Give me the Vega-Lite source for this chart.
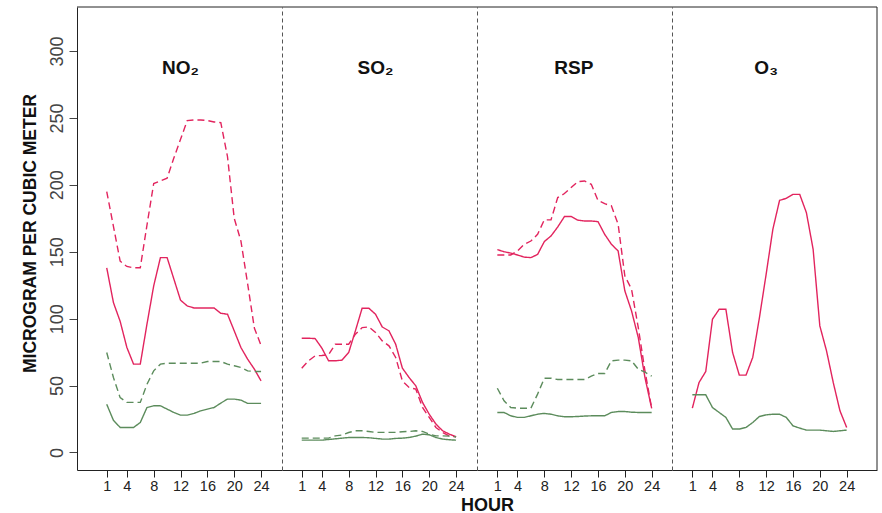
{
  "$schema": "https://vega.github.io/schema/vega-lite/v6.json",
  "background": "white",
  "padding": {"left": 20, "top": 6, "right": 4, "bottom": 0},
  "spacing": 0,
  "bounds": "flush",
  "config": {
    "font": "Liberation Sans",
    "view": {"stroke": null},
    "axis": {"grid": false, "labelFlush": false, "labelOverlap": false}
  },
  "datasets": {
    "NO2": [
      {"series":"S1","hour":1,"value":195},{"series":"S1","hour":2,"value":169},{"series":"S1","hour":3,"value":143},{"series":"S1","hour":4,"value":139},{"series":"S1","hour":5,"value":138},{"series":"S1","hour":6,"value":138},{"series":"S1","hour":7,"value":170},{"series":"S1","hour":8,"value":201},{"series":"S1","hour":9,"value":203},{"series":"S1","hour":10,"value":205},{"series":"S1","hour":11,"value":220},{"series":"S1","hour":12,"value":234},{"series":"S1","hour":13,"value":248},{"series":"S1","hour":14,"value":248.5},{"series":"S1","hour":15,"value":248.5},{"series":"S1","hour":16,"value":248},{"series":"S1","hour":17,"value":247},{"series":"S1","hour":18,"value":246.5},{"series":"S1","hour":19,"value":221},{"series":"S1","hour":20,"value":175},{"series":"S1","hour":21,"value":158},{"series":"S1","hour":22,"value":126},{"series":"S1","hour":23,"value":93},{"series":"S1","hour":24,"value":80},
      {"series":"S2","hour":1,"value":138},{"series":"S2","hour":2,"value":112},{"series":"S2","hour":3,"value":98},{"series":"S2","hour":4,"value":78.5},{"series":"S2","hour":5,"value":66},{"series":"S2","hour":6,"value":66},{"series":"S2","hour":7,"value":96},{"series":"S2","hour":8,"value":124.5},{"series":"S2","hour":9,"value":145.6},{"series":"S2","hour":10,"value":145.6},{"series":"S2","hour":11,"value":129.7},{"series":"S2","hour":12,"value":113.8},{"series":"S2","hour":13,"value":109.5},{"series":"S2","hour":14,"value":108},{"series":"S2","hour":15,"value":108},{"series":"S2","hour":16,"value":108},{"series":"S2","hour":17,"value":108},{"series":"S2","hour":18,"value":104},{"series":"S2","hour":19,"value":103.3},{"series":"S2","hour":20,"value":90.9},{"series":"S2","hour":21,"value":78.4},{"series":"S2","hour":22,"value":69.7},{"series":"S2","hour":23,"value":62.3},{"series":"S2","hour":24,"value":53.5},
      {"series":"S3","hour":1,"value":74.7},{"series":"S3","hour":2,"value":56},{"series":"S3","hour":3,"value":41},{"series":"S3","hour":4,"value":37.4},{"series":"S3","hour":5,"value":37.4},{"series":"S3","hour":6,"value":37.4},{"series":"S3","hour":7,"value":51},{"series":"S3","hour":8,"value":61},{"series":"S3","hour":9,"value":66},{"series":"S3","hour":10,"value":66.7},{"series":"S3","hour":11,"value":66.7},{"series":"S3","hour":12,"value":66.7},{"series":"S3","hour":13,"value":66.7},{"series":"S3","hour":14,"value":66.7},{"series":"S3","hour":15,"value":66.7},{"series":"S3","hour":16,"value":68},{"series":"S3","hour":17,"value":68},{"series":"S3","hour":18,"value":68},{"series":"S3","hour":19,"value":66},{"series":"S3","hour":20,"value":64.8},{"series":"S3","hour":21,"value":63.5},{"series":"S3","hour":22,"value":61},{"series":"S3","hour":23,"value":60.5},{"series":"S3","hour":24,"value":60.5},
      {"series":"S4","hour":1,"value":36},{"series":"S4","hour":2,"value":24},{"series":"S4","hour":3,"value":18.7},{"series":"S4","hour":4,"value":18.7},{"series":"S4","hour":5,"value":18.7},{"series":"S4","hour":6,"value":22.4},{"series":"S4","hour":7,"value":33.6},{"series":"S4","hour":8,"value":34.9},{"series":"S4","hour":9,"value":34.9},{"series":"S4","hour":10,"value":32.4},{"series":"S4","hour":11,"value":29.9},{"series":"S4","hour":12,"value":27.9},{"series":"S4","hour":13,"value":27.9},{"series":"S4","hour":14,"value":29.2},{"series":"S4","hour":15,"value":31.1},{"series":"S4","hour":16,"value":32.4},{"series":"S4","hour":17,"value":33.6},{"series":"S4","hour":18,"value":36.9},{"series":"S4","hour":19,"value":39.9},{"series":"S4","hour":20,"value":39.9},{"series":"S4","hour":21,"value":39.1},{"series":"S4","hour":22,"value":36.7},{"series":"S4","hour":23,"value":36.7},{"series":"S4","hour":24,"value":36.7}
    ],
    "SO2": [
      {"series":"S1","hour":1,"value":63},{"series":"S1","hour":2,"value":68.5},{"series":"S1","hour":3,"value":72.2},{"series":"S1","hour":4,"value":72.5},{"series":"S1","hour":5,"value":73},{"series":"S1","hour":6,"value":80.9},{"series":"S1","hour":7,"value":80.9},{"series":"S1","hour":8,"value":80.9},{"series":"S1","hour":9,"value":88.4},{"series":"S1","hour":10,"value":93.3},{"series":"S1","hour":11,"value":93.8},{"series":"S1","hour":12,"value":89.7},{"series":"S1","hour":13,"value":83.4},{"series":"S1","hour":14,"value":79.7},{"series":"S1","hour":15,"value":71},{"series":"S1","hour":16,"value":53.5},{"series":"S1","hour":17,"value":48.6},{"series":"S1","hour":18,"value":47.3},{"series":"S1","hour":19,"value":33.6},{"series":"S1","hour":20,"value":26.2},{"series":"S1","hour":21,"value":18.7},{"series":"S1","hour":22,"value":14.9},{"series":"S1","hour":23,"value":12.4},{"series":"S1","hour":24,"value":11.7},
      {"series":"S2","hour":1,"value":85.4},{"series":"S2","hour":2,"value":85.4},{"series":"S2","hour":3,"value":85.1},{"series":"S2","hour":4,"value":78},{"series":"S2","hour":5,"value":68.5},{"series":"S2","hour":6,"value":68.5},{"series":"S2","hour":7,"value":69},{"series":"S2","hour":8,"value":74.7},{"series":"S2","hour":9,"value":90.9},{"series":"S2","hour":10,"value":107.8},{"series":"S2","hour":11,"value":107.8},{"series":"S2","hour":12,"value":103.3},{"series":"S2","hour":13,"value":93.8},{"series":"S2","hour":14,"value":90.9},{"series":"S2","hour":15,"value":80.9},{"series":"S2","hour":16,"value":63},{"series":"S2","hour":17,"value":56},{"series":"S2","hour":18,"value":49.8},{"series":"S2","hour":19,"value":37.4},{"series":"S2","hour":20,"value":28.6},{"series":"S2","hour":21,"value":21.2},{"series":"S2","hour":22,"value":16.2},{"series":"S2","hour":23,"value":13.7},{"series":"S2","hour":24,"value":11.7},
      {"series":"S3","hour":1,"value":10.7},{"series":"S3","hour":2,"value":10.7},{"series":"S3","hour":3,"value":10.7},{"series":"S3","hour":4,"value":10.7},{"series":"S3","hour":5,"value":10.7},{"series":"S3","hour":6,"value":12.4},{"series":"S3","hour":7,"value":13},{"series":"S3","hour":8,"value":14.9},{"series":"S3","hour":9,"value":16.2},{"series":"S3","hour":10,"value":16.2},{"series":"S3","hour":11,"value":15.7},{"series":"S3","hour":12,"value":15},{"series":"S3","hour":13,"value":15},{"series":"S3","hour":14,"value":15},{"series":"S3","hour":15,"value":15},{"series":"S3","hour":16,"value":15.5},{"series":"S3","hour":17,"value":15.7},{"series":"S3","hour":18,"value":16.2},{"series":"S3","hour":19,"value":15.7},{"series":"S3","hour":20,"value":13.7},{"series":"S3","hour":21,"value":12.4},{"series":"S3","hour":22,"value":12.4},{"series":"S3","hour":23,"value":12.2},{"series":"S3","hour":24,"value":11.7},
      {"series":"S4","hour":1,"value":9.2},{"series":"S4","hour":2,"value":9.2},{"series":"S4","hour":3,"value":9.2},{"series":"S4","hour":4,"value":9.2},{"series":"S4","hour":5,"value":9.7},{"series":"S4","hour":6,"value":10.2},{"series":"S4","hour":7,"value":10.7},{"series":"S4","hour":8,"value":11.2},{"series":"S4","hour":9,"value":11.2},{"series":"S4","hour":10,"value":11.2},{"series":"S4","hour":11,"value":11},{"series":"S4","hour":12,"value":10.5},{"series":"S4","hour":13,"value":10},{"series":"S4","hour":14,"value":10},{"series":"S4","hour":15,"value":10.5},{"series":"S4","hour":16,"value":10.7},{"series":"S4","hour":17,"value":11.2},{"series":"S4","hour":18,"value":12.2},{"series":"S4","hour":19,"value":13.7},{"series":"S4","hour":20,"value":13.2},{"series":"S4","hour":21,"value":11.2},{"series":"S4","hour":22,"value":10},{"series":"S4","hour":23,"value":9.5},{"series":"S4","hour":24,"value":9.2}
    ],
    "RSP": [
      {"series":"S1","hour":1,"value":147.6},{"series":"S1","hour":2,"value":147.6},{"series":"S1","hour":3,"value":147.6},{"series":"S1","hour":4,"value":150.6},{"series":"S1","hour":5,"value":155.6},{"series":"S1","hour":6,"value":158},{"series":"S1","hour":7,"value":163},{"series":"S1","hour":8,"value":173.8},{"series":"S1","hour":9,"value":173.8},{"series":"S1","hour":10,"value":190.5},{"series":"S1","hour":11,"value":193.5},{"series":"S1","hour":12,"value":198},{"series":"S1","hour":13,"value":202.4},{"series":"S1","hour":14,"value":202.9},{"series":"S1","hour":15,"value":200.4},{"series":"S1","hour":16,"value":188.4},{"series":"S1","hour":17,"value":185.9},{"series":"S1","hour":18,"value":184.3},{"series":"S1","hour":19,"value":170.6},{"series":"S1","hour":20,"value":132},{"series":"S1","hour":21,"value":122},{"series":"S1","hour":22,"value":93.4},{"series":"S1","hour":23,"value":61},{"series":"S1","hour":24,"value":33},
      {"series":"S2","hour":1,"value":151.6},{"series":"S2","hour":2,"value":150},{"series":"S2","hour":3,"value":149},{"series":"S2","hour":4,"value":147.6},{"series":"S2","hour":5,"value":146},{"series":"S2","hour":6,"value":145.6},{"series":"S2","hour":7,"value":148},{"series":"S2","hour":8,"value":157.6},{"series":"S2","hour":9,"value":161.8},{"series":"S2","hour":10,"value":168.5},{"series":"S2","hour":11,"value":176.3},{"series":"S2","hour":12,"value":176.3},{"series":"S2","hour":13,"value":173.6},{"series":"S2","hour":14,"value":173},{"series":"S2","hour":15,"value":173},{"series":"S2","hour":16,"value":172.5},{"series":"S2","hour":17,"value":163},{"series":"S2","hour":18,"value":155.6},{"series":"S2","hour":19,"value":150.6},{"series":"S2","hour":20,"value":120.8},{"series":"S2","hour":21,"value":105.8},{"series":"S2","hour":22,"value":86},{"series":"S2","hour":23,"value":56},{"series":"S2","hour":24,"value":33},
      {"series":"S3","hour":1,"value":48},{"series":"S3","hour":2,"value":38.6},{"series":"S3","hour":3,"value":33.6},{"series":"S3","hour":4,"value":33.1},{"series":"S3","hour":5,"value":33.1},{"series":"S3","hour":6,"value":33.1},{"series":"S3","hour":7,"value":43.6},{"series":"S3","hour":8,"value":55.5},{"series":"S3","hour":9,"value":55.5},{"series":"S3","hour":10,"value":54.5},{"series":"S3","hour":11,"value":54.5},{"series":"S3","hour":12,"value":54.5},{"series":"S3","hour":13,"value":54.5},{"series":"S3","hour":14,"value":54.5},{"series":"S3","hour":15,"value":57},{"series":"S3","hour":16,"value":59},{"series":"S3","hour":17,"value":59},{"series":"S3","hour":18,"value":68.5},{"series":"S3","hour":19,"value":69},{"series":"S3","hour":20,"value":69},{"series":"S3","hour":21,"value":68.5},{"series":"S3","hour":22,"value":62.2},{"series":"S3","hour":23,"value":60},{"series":"S3","hour":24,"value":57},
      {"series":"S4","hour":1,"value":29.9},{"series":"S4","hour":2,"value":29.9},{"series":"S4","hour":3,"value":27.4},{"series":"S4","hour":4,"value":26.2},{"series":"S4","hour":5,"value":26.2},{"series":"S4","hour":6,"value":27.4},{"series":"S4","hour":7,"value":28.6},{"series":"S4","hour":8,"value":29.2},{"series":"S4","hour":9,"value":28.6},{"series":"S4","hour":10,"value":27.4},{"series":"S4","hour":11,"value":26.7},{"series":"S4","hour":12,"value":26.7},{"series":"S4","hour":13,"value":26.9},{"series":"S4","hour":14,"value":27.2},{"series":"S4","hour":15,"value":27.4},{"series":"S4","hour":16,"value":27.4},{"series":"S4","hour":17,"value":27.4},{"series":"S4","hour":18,"value":29.9},{"series":"S4","hour":19,"value":30.6},{"series":"S4","hour":20,"value":30.6},{"series":"S4","hour":21,"value":30.1},{"series":"S4","hour":22,"value":29.9},{"series":"S4","hour":23,"value":29.9},{"series":"S4","hour":24,"value":29.9}
    ],
    "O3": [
      {"series":"S2","hour":1,"value":33.1},{"series":"S2","hour":2,"value":52.3},{"series":"S2","hour":3,"value":60.5},{"series":"S2","hour":4,"value":99.6},{"series":"S2","hour":5,"value":107},{"series":"S2","hour":6,"value":107},{"series":"S2","hour":7,"value":74.7},{"series":"S2","hour":8,"value":57.8},{"series":"S2","hour":9,"value":57.8},{"series":"S2","hour":10,"value":71},{"series":"S2","hour":11,"value":100.8},{"series":"S2","hour":12,"value":133.2},{"series":"S2","hour":13,"value":166.8},{"series":"S2","hour":14,"value":188.4},{"series":"S2","hour":15,"value":189.9},{"series":"S2","hour":16,"value":192.9},{"series":"S2","hour":17,"value":192.9},{"series":"S2","hour":18,"value":179.2},{"series":"S2","hour":19,"value":151.9},{"series":"S2","hour":20,"value":94.6},{"series":"S2","hour":21,"value":75.9},{"series":"S2","hour":22,"value":52.3},{"series":"S2","hour":23,"value":31.1},{"series":"S2","hour":24,"value":18.7},
      {"series":"S4","hour":1,"value":43.1},{"series":"S4","hour":2,"value":43.1},{"series":"S4","hour":3,"value":43.1},{"series":"S4","hour":4,"value":33.6},{"series":"S4","hour":5,"value":29.9},{"series":"S4","hour":6,"value":26.2},{"series":"S4","hour":7,"value":17.5},{"series":"S4","hour":8,"value":17.5},{"series":"S4","hour":9,"value":18.7},{"series":"S4","hour":10,"value":22.4},{"series":"S4","hour":11,"value":26.9},{"series":"S4","hour":12,"value":28.1},{"series":"S4","hour":13,"value":28.6},{"series":"S4","hour":14,"value":28.6},{"series":"S4","hour":15,"value":26.2},{"series":"S4","hour":16,"value":19.9},{"series":"S4","hour":17,"value":18.2},{"series":"S4","hour":18,"value":16.7},{"series":"S4","hour":19,"value":16.7},{"series":"S4","hour":20,"value":16.7},{"series":"S4","hour":21,"value":16.2},{"series":"S4","hour":22,"value":15.7},{"series":"S4","hour":23,"value":16.2},{"series":"S4","hour":24,"value":16.7}
    ]
  },
  "hconcat": [
    {
      "width": 205, "height": 463,
      "data": {"name": "NO2"},
      "resolve": {"axis": {"x": "independent", "y": "independent"}},
      "layer": [
        {
          "mark": {"type": "line", "strokeWidth": 1.4},
          "encoding": {
            "x": {"field": "hour", "type": "quantitative", "scale": {"domain": [-3.43, 27.12], "nice": false, "zero": false},
              "axis": {"values": [1,4,8,12,16,20,24], "labelOverlap": false, "title": null, "domainColor": "#222", "tickColor": "#222", "tickSize": 7, "labelFontSize": 14.5, "labelColor": "#222", "labelPadding": 2}},
            "y": {"field": "value", "type": "quantitative", "scale": {"domain": [-13.1, 332.9], "nice": false, "zero": false},
              "axis": {"values": [0,50,100,150,200,250,300], "labelOverlap": false, "title": "MICROGRAM PER CUBIC METER", "titleX": -42, "titleY": 226, "titleAngle": 270, "titleBaseline": "alphabetic", "titleAlign": "center", "titleFontSize": 17.5, "titleFontWeight": "bold", "titleColor": "#111",
                "labelAngle": 270, "labelAlign": "center", "labelBaseline": "alphabetic", "labelPadding": 7, "labelFontSize": 18, "labelColor": "#444", "tickSize": 8, "tickColor": "#444", "domainColor": "#222"}},
            "color": {"field": "series", "type": "nominal", "scale": {"domain": ["S1","S2","S3","S4"], "range": ["#E2245E","#E2245E","#5C8C5C","#5C8C5C"]}, "legend": null},
            "strokeDash": {"field": "series", "type": "nominal", "scale": {"domain": ["S1","S2","S3","S4"], "range": [[7,4],[1,0],[7,4],[1,0]]}, "legend": null}
          }
        },
        {
          "data": {"values": [{}]},
          "mark": {"type": "rule", "color": "#222", "strokeWidth": 1},
          "encoding": {"y": {"datum": 332.9, "axis": null}}
        },
        {
          "data": {"values": [{}]},
          "mark": {"type": "text", "text": "NO₂", "fontWeight": "bold", "fontSize": 19, "align": "center", "baseline": "alphabetic", "color": "#111"},
          "encoding": {"x": {"datum": 12.0, "axis": null}, "y": {"datum": 282.6, "axis": null}}
        }
      ]
    },
    {
      "width": 195, "height": 463,
      "data": {"name": "SO2"},
      "resolve": {"axis": {"x": "independent", "y": "independent"}},
      "layer": [
        {
          "mark": {"type": "line", "strokeWidth": 1.4},
          "encoding": {
            "x": {"field": "hour", "type": "quantitative", "scale": {"domain": [-1.94, 27.12], "nice": false, "zero": false},
              "axis": {"values": [1,4,8,12,16,20,24], "labelOverlap": false, "title": "HOUR", "titleX": 205, "titleY": 40, "titleAlign": "center", "titleBaseline": "alphabetic", "titleFontSize": 18, "titleFontWeight": "bold", "titleColor": "#111", "domainColor": "#222", "tickColor": "#222", "tickSize": 7, "labelFontSize": 14.5, "labelColor": "#222", "labelPadding": 2}},
            "y": {"field": "value", "type": "quantitative", "scale": {"domain": [-13.1, 332.9], "nice": false, "zero": false},
              "axis": {"title": null, "labels": false, "ticks": false, "domainColor": "#555", "domainDash": [4,3]}},
            "color": {"field": "series", "type": "nominal", "scale": {"domain": ["S1","S2","S3","S4"], "range": ["#E2245E","#E2245E","#5C8C5C","#5C8C5C"]}, "legend": null},
            "strokeDash": {"field": "series", "type": "nominal", "scale": {"domain": ["S1","S2","S3","S4"], "range": [[7,4],[1,0],[7,4],[1,0]]}, "legend": null}
          }
        },
        {
          "data": {"values": [{}]},
          "mark": {"type": "rule", "color": "#222", "strokeWidth": 1},
          "encoding": {"y": {"datum": 332.9, "axis": null}}
        },
        {
          "data": {"values": [{}]},
          "mark": {"type": "text", "text": "SO₂", "fontWeight": "bold", "fontSize": 19, "align": "center", "baseline": "alphabetic", "color": "#111"},
          "encoding": {"x": {"datum": 12.0, "axis": null}, "y": {"datum": 282.6, "axis": null}}
        }
      ]
    },
    {
      "width": 195, "height": 463,
      "data": {"name": "RSP"},
      "resolve": {"axis": {"x": "independent", "y": "independent"}},
      "layer": [
        {
          "mark": {"type": "line", "strokeWidth": 1.4},
          "encoding": {
            "x": {"field": "hour", "type": "quantitative", "scale": {"domain": [-2.03, 27.03], "nice": false, "zero": false},
              "axis": {"values": [1,4,8,12,16,20,24], "labelOverlap": false, "title": null, "domainColor": "#222", "tickColor": "#222", "tickSize": 7, "labelFontSize": 14.5, "labelColor": "#222", "labelPadding": 2}},
            "y": {"field": "value", "type": "quantitative", "scale": {"domain": [-13.1, 332.9], "nice": false, "zero": false},
              "axis": {"title": null, "labels": false, "ticks": false, "domainColor": "#555", "domainDash": [4,3]}},
            "color": {"field": "series", "type": "nominal", "scale": {"domain": ["S1","S2","S3","S4"], "range": ["#E2245E","#E2245E","#5C8C5C","#5C8C5C"]}, "legend": null},
            "strokeDash": {"field": "series", "type": "nominal", "scale": {"domain": ["S1","S2","S3","S4"], "range": [[7,4],[1,0],[7,4],[1,0]]}, "legend": null}
          }
        },
        {
          "data": {"values": [{}]},
          "mark": {"type": "rule", "color": "#222", "strokeWidth": 1},
          "encoding": {"y": {"datum": 332.9, "axis": null}}
        },
        {
          "data": {"values": [{}]},
          "mark": {"type": "text", "text": "RSP", "fontWeight": "bold", "fontSize": 19, "align": "center", "baseline": "alphabetic", "color": "#111"},
          "encoding": {"x": {"datum": 12.4, "axis": null}, "y": {"datum": 282.6, "axis": null}}
        }
      ]
    },
    {
      "width": 205, "height": 463,
      "data": {"name": "O3"},
      "resolve": {"axis": {"x": "independent", "y": "independent"}},
      "layer": [
        {
          "mark": {"type": "line", "strokeWidth": 1.4},
          "encoding": {
            "x": {"field": "hour", "type": "quantitative", "scale": {"domain": [-2.03, 28.52], "nice": false, "zero": false},
              "axis": {"values": [1,4,8,12,16,20,24], "labelOverlap": false, "title": null, "domainColor": "#222", "tickColor": "#222", "tickSize": 7, "labelFontSize": 14.5, "labelColor": "#222", "labelPadding": 2}},
            "y": {"field": "value", "type": "quantitative", "scale": {"domain": [-13.1, 332.9], "nice": false, "zero": false},
              "axis": {"title": null, "labels": false, "ticks": false, "domainColor": "#555", "domainDash": [4,3]}},
            "color": {"field": "series", "type": "nominal", "scale": {"domain": ["S1","S2","S3","S4"], "range": ["#E2245E","#E2245E","#5C8C5C","#5C8C5C"]}, "legend": null},
            "strokeDash": {"field": "series", "type": "nominal", "scale": {"domain": ["S1","S2","S3","S4"], "range": [[7,4],[1,0],[7,4],[1,0]]}, "legend": null}
          }
        },
        {
          "data": {"values": [{}]},
          "mark": {"type": "rule", "color": "#222", "strokeWidth": 1},
          "encoding": {"y": {"datum": 332.9, "axis": null}}
        },
        {
          "data": {"values": [{}]},
          "mark": {"type": "rule", "color": "#222", "strokeWidth": 1},
          "encoding": {"x": {"datum": 28.52, "axis": null}}
        },
        {
          "data": {"values": [{}]},
          "mark": {"type": "text", "text": "O₃", "fontWeight": "bold", "fontSize": 19, "align": "center", "baseline": "alphabetic", "color": "#111"},
          "encoding": {"x": {"datum": 12.0, "axis": null}, "y": {"datum": 282.6, "axis": null}}
        }
      ]
    }
  ]
}
